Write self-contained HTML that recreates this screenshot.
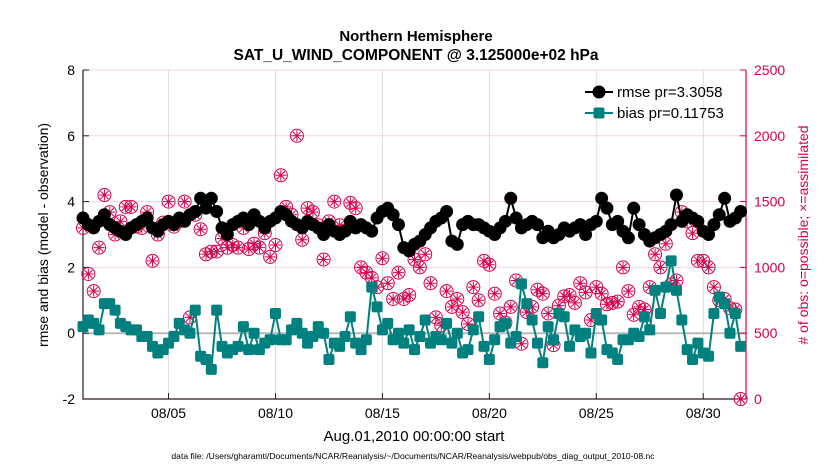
<!DOCTYPE html>
<html><head><meta charset="utf-8">
<style>
body{margin:0;background:#fff;width:830px;height:470px;overflow:hidden;font-family:"Liberation Sans",sans-serif;}
svg text{font-family:"Liberation Sans",sans-serif;}
</style></head>
<body>
<svg id="chart" width="830" height="470" xmlns="http://www.w3.org/2000/svg">
<text x="416" y="41" text-anchor="middle" font-size="15" font-weight="bold">Northern Hemisphere</text>
<text x="416" y="60" text-anchor="middle" font-size="15.5" font-weight="bold">SAT_U_WIND_COMPONENT @ 3.125000e+02 hPa</text>
<text transform="translate(48,235) rotate(-90)" text-anchor="middle" font-size="14">rmse and bias (model - observation)</text>
<text transform="translate(808,235) rotate(-90)" text-anchor="middle" font-size="14" fill="#d6004f"># of obs: o=possible; ×=assimilated</text>
<text x="414" y="441" text-anchor="middle" font-size="15">Aug.01,2010 00:00:00 start</text>
<text x="413" y="459" text-anchor="middle" font-size="8.6">data file: /Users/gharamti/Documents/NCAR/Reanalysis/~/Documents/NCAR/Reanalysis/webpub/obs_diag_output_2010-08.nc</text>
<g id="grid"></g><g id="axes"></g><g id="marks"></g>
<g>
<line x1="585" y1="92" x2="613" y2="92" stroke="#000" stroke-width="2"/>
<circle cx="599" cy="92" r="6.5" fill="#000"/>
<text x="617" y="97" font-size="15">rmse pr=3.3058</text>
<line x1="585" y1="113" x2="613" y2="113" stroke="#00807f" stroke-width="2"/>
<rect x="593.5" y="107.5" width="11" height="11" rx="2" fill="#00807f"/>
<text x="617" y="118" font-size="15">bias pr=0.11753</text>
</g>
</svg>
<script>
const xTickDays=[4,9,14,19,24,29];
const xTickLabels=["08/05","08/10","08/15","08/20","08/25","08/30"];
const yLeftTicks=[8,6,4,2,0,-2];
const yRightTicks=[2500,2000,1500,1000,500,0];
const rmse=[3.5,3.3,3.2,3.4,3.6,3.3,3.2,3.1,3.0,3.2,3.3,3.4,3.5,3.2,3.1,3.3,3.4,3.3,3.5,3.4,3.6,3.7,4.1,3.8,4.1,3.7,3.2,3.0,3.3,3.4,3.5,3.3,3.6,3.4,3.2,3.4,3.5,3.7,3.6,3.4,3.3,3.2,3.4,3.3,3.2,3.0,3.3,3.1,3.0,3.1,3.4,3.2,3.3,3.2,3.1,3.5,3.7,3.8,3.6,3.3,2.6,2.5,2.7,2.8,3.0,3.2,3.4,3.5,3.7,2.8,2.7,3.3,3.4,3.3,3.3,3.2,3.1,3.0,3.2,3.4,4.1,3.5,3.2,3.3,3.4,3.3,2.9,3.1,2.9,3.0,3.2,3.1,3.2,3.3,3.0,3.3,3.4,4.1,3.8,3.3,3.4,3.1,2.9,3.8,3.3,3.0,2.8,2.9,3.0,3.1,3.3,4.2,3.4,3.6,3.5,3.4,3.1,3.0,3.3,3.6,4.1,3.4,3.5,3.7];
const bias=[0.2,0.4,0.3,0.1,0.9,0.9,0.7,0.3,0.2,0.1,0.1,-0.1,-0.1,-0.4,-0.6,-0.5,-0.3,-0.1,0.3,0.1,0.0,0.7,-0.7,-0.8,-1.1,0.7,-0.4,-0.6,-0.5,-0.4,0.2,-0.5,0.0,-0.5,-0.3,-0.2,0.6,-0.2,-0.2,0.1,0.3,0.0,-0.3,-0.1,0.2,0.0,-0.8,-0.3,-0.4,-0.1,0.5,-0.3,-0.5,-0.2,1.4,0.8,0.1,0.3,-0.2,0.0,-0.3,0.1,-0.5,-0.1,0.4,-0.3,-0.1,-0.2,0.3,-0.3,0.0,-0.6,-0.5,0.1,0.5,-0.4,-0.8,-0.2,0.2,0.3,-0.3,-0.1,1.5,0.9,0.4,-0.3,-0.9,0.2,-0.2,0.6,0.5,-0.4,0.1,-0.1,0.0,-0.6,0.6,0.4,-0.5,-0.6,-0.8,-0.2,-0.2,0.0,-0.1,0.5,0.1,1.3,0.6,1.4,2.2,1.3,0.4,-0.5,-0.8,-0.3,-0.6,-0.7,0.6,1.1,0.9,0.0,0.6,-0.4];
const nobs=[1300,950,820,1150,1550,1420,1250,1350,1460,1460,1310,1300,1420,1050,1250,1340,1500,1310,1350,1500,620,1400,1290,1100,1120,1120,1220,1150,1170,1150,1300,1140,1180,1150,1260,1080,1170,1700,1460,1400,2000,1210,1450,1420,1320,1060,1350,1500,1320,1280,1490,1450,1000,960,920,850,1070,880,760,960,760,790,1060,1000,1100,880,620,560,820,700,760,660,570,850,750,1050,1020,800,650,580,700,900,420,660,700,830,800,650,410,710,780,790,730,880,810,600,850,800,720,730,740,1000,820,640,700,680,850,1100,1000,1180,870,900,1420,1350,1260,1050,1050,1000,850,750,760,690,680,0];
const NS="http://www.w3.org/2000/svg";
const L=83,R=746,T=70,B=399;
const xs=d=>L+(d/31)*(R-L);
const yl=v=>B-(v+2)/10*(B-T);
const yr=v=>B-v/2500*(B-T);
function mk(tag,attrs,parent){const e=document.createElementNS(NS,tag);for(const k in attrs)e.setAttribute(k,attrs[k]);parent.appendChild(e);return e;}
const grid=document.getElementById('grid'),axes=document.getElementById('axes'),marks=document.getElementById('marks');
yRightTicks.forEach(v=>{const g=mk('line',{x1:L,x2:R,y1:yr(v),y2:yr(v),stroke:'#f2d4de','stroke-width':1},grid);

});
xTickDays.forEach((d,i)=>{const g=mk('line',{x1:xs(d),x2:xs(d),y1:T,y2:B,stroke:'#dcdcdc','stroke-width':1},grid);


const t=mk('line',{x1:xs(d),x2:xs(d),y1:B,y2:B-6,stroke:'#222'},axes);


const tx=mk('text',{x:xs(d),y:B+19,'text-anchor':'middle','font-size':14},axes);tx.textContent=xTickLabels[i];

});
const zl=mk('line',{x1:L,x2:R,y1:yl(0),y2:yl(0),stroke:'#b8b8b8','stroke-width':2},grid);


yLeftTicks.forEach(v=>{const t=mk('line',{x1:L,x2:L+6,y1:yl(v),y2:yl(v),stroke:'#222'},axes);


const tx=mk('text',{x:L-8,y:yl(v)+5,'text-anchor':'end','font-size':14},axes);tx.textContent=v;

});
yRightTicks.forEach(v=>{const t=mk('line',{x1:R,x2:R-6,y1:yr(v),y2:yr(v),stroke:'#d6004f'},axes);


const tx=mk('text',{x:R+8,y:yr(v)+5,'text-anchor':'start','font-size':14,fill:'#d6004f'},axes);tx.textContent=v;

});
const ax1=mk('path',{d:`M${L},${T}V${B}H${R}`,fill:'none',stroke:'#2a1a1a','stroke-width':1.2},axes);


const ax2=mk('line',{x1:R,x2:R,y1:T,y2:B,stroke:'#d6004f','stroke-width':1.2},axes);


nobs.forEach((v,i)=>{const x=xs(i*0.25),y=yr(v);const g=mk('g',{stroke:'#d6004f','stroke-width':1,fill:'none'},marks);


mk('circle',{cx:x,cy:y,r:6.5},g);
mk('path',{d:`M${x-5.5},${y}H${x+5.5}M${x},${y-5.5}V${y+5.5}M${x-4},${y-4}L${x+4},${y+4}M${x-4},${y+4}L${x+4},${y-4}`},g);});
const rp=rmse.map((v,i)=>`${xs(i*0.25)},${yl(v)}`).join(' ');
const rl=mk('polyline',{points:rp,fill:'none',stroke:'#000','stroke-width':2},marks);


rmse.forEach((v,i)=>{const c=mk('circle',{cx:xs(i*0.25),cy:yl(v),r:6.5,fill:'#000'},marks);

});
const bp=bias.map((v,i)=>`${xs(i*0.25)},${yl(v)}`).join(' ');
const bl=mk('polyline',{points:bp,fill:'none',stroke:'#00807f','stroke-width':2},marks);


bias.forEach((v,i)=>{const r=mk('rect',{x:xs(i*0.25)-5.5,y:yl(v)-5.5,width:11,height:11,rx:2,fill:'#00807f'},marks);

});
</script>
</body></html>
